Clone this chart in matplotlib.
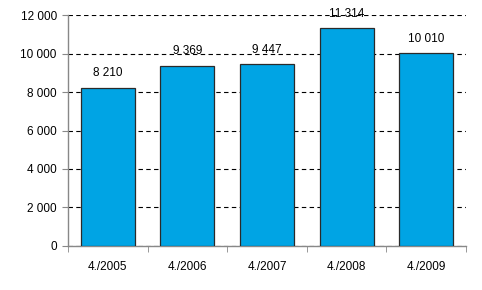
import matplotlib
matplotlib.use("Agg")
import matplotlib.pyplot as plt
import numpy as np

# Data
categories = ["4./2005", "4./2006", "4./2007", "4./2008", "4./2009"]
values = [8210, 9369, 9447, 11314, 10010]
y_ticks = [0, 2000, 4000, 6000, 8000, 10000, 12000]


def fmt(v):
    # Finnish style thousands separator (space)
    return f"{v:,}".replace(",", " ")


plt.rcParams["font.family"] = ["Liberation Sans", "DejaVu Sans"]

fig = plt.figure(figsize=(4.82, 2.90), dpi=100)
ax = fig.add_axes([0.141, 0.152, 0.826, 0.796])

x = np.arange(len(categories))
ax.bar(x, values, width=0.68, color="#00A4E4", edgecolor="#2a2a2a",
       linewidth=0.9, zorder=3)

for xi, v in zip(x, values):
    ax.text(xi, v + 450, fmt(v), ha="center", va="bottom", fontsize=8.5,
            zorder=4)

ax.set_xlim(-0.5, len(categories) - 0.5)
ax.set_ylim(0, 12000)
ax.set_yticks(y_ticks)
ax.set_yticklabels([fmt(v) for v in y_ticks], fontsize=8.5)

# category labels centred, tick marks on the boundaries
ax.set_xticks(x)
ax.set_xticklabels(categories, fontsize=8.5)
ax.tick_params(axis="x", length=0, pad=11)
ax.set_xticks(np.arange(-0.5, len(categories)), minor=True)
ax.tick_params(axis="x", which="minor", length=4, color="#888888",
               direction="out")
ax.tick_params(axis="y", length=4, color="#888888", pad=4)

ax.yaxis.grid(True, linestyle=(0, (4, 3)), color="black", linewidth=0.8,
              zorder=0)
ax.set_axisbelow(True)

for side in ["top", "right"]:
    ax.spines[side].set_visible(False)
for side in ["left", "bottom"]:
    ax.spines[side].set_color("#888888")
    ax.spines[side].set_linewidth(1.0)

fig.savefig("out.png", dpi=100)
